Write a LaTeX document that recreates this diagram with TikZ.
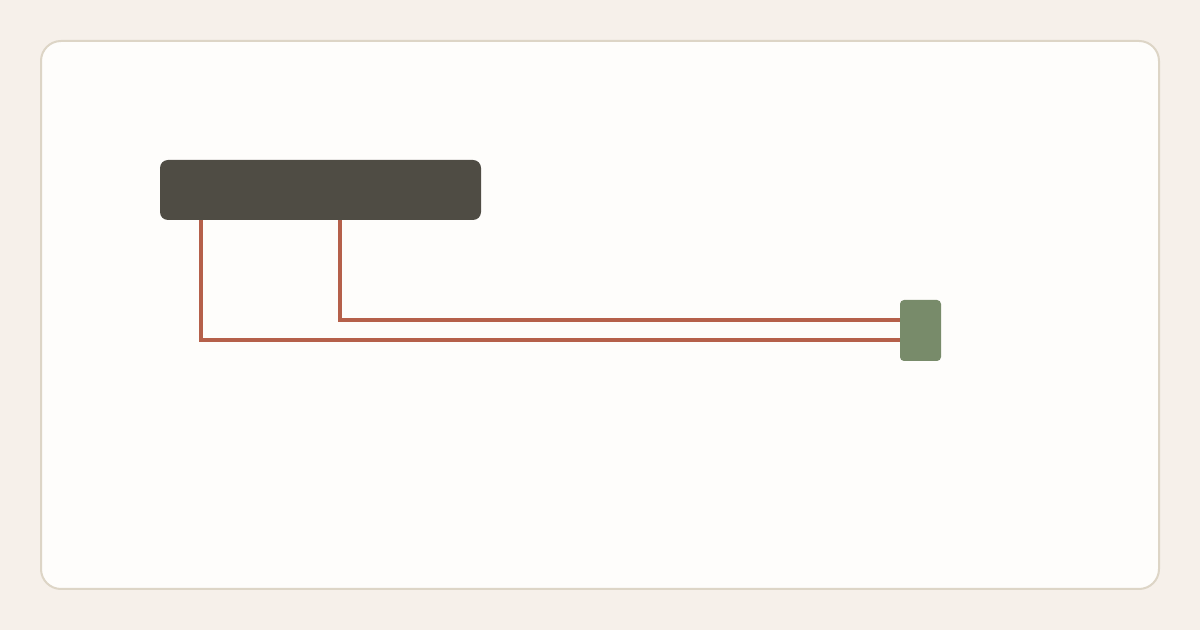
\documentclass[tikz,border=0pt]{standalone}
\begin{document}
\begin{tikzpicture}[x=0.75pt,y=-0.75pt,
  card/.style={draw=cardline,fill=cardfill,line width=1.5pt,rounded corners=15pt},
  darkbox/.style={fill=darkgrey,rounded corners=6pt,inner sep=0pt,minimum width=240.75pt,minimum height=45pt},
  greenbox/.style={fill=sage,rounded corners=3pt,inner sep=0pt,minimum width=30.75pt,minimum height=45.75pt},
  wire/.style={draw=rust,line width=3pt}]
\definecolor{bgc}{HTML}{F6F0EA}
\definecolor{cardline}{HTML}{DDD5C6}
\definecolor{cardfill}{HTML}{FEFDFB}
\definecolor{darkgrey}{HTML}{4F4C44}
\definecolor{sage}{HTML}{788B6A}
\definecolor{rust}{HTML}{B5604A}
\fill[bgc] (0,0) rectangle (1200,630);
\useasboundingbox (0,0) rectangle (1200,630);
\draw[card] (41,41) rectangle (1159,589);
\node[darkbox] (dark) at (320.5,190) {};
\node[greenbox] (green) at (920.5,330.5) {};
\draw[wire] ([xshift=30.75pt]dark.south west) |- ([yshift=-7.3pt]green.west);
\draw[wire] ([xshift=135.4pt]dark.south west) |- ([yshift=7.7pt]green.west);
\end{tikzpicture}
\end{document}
